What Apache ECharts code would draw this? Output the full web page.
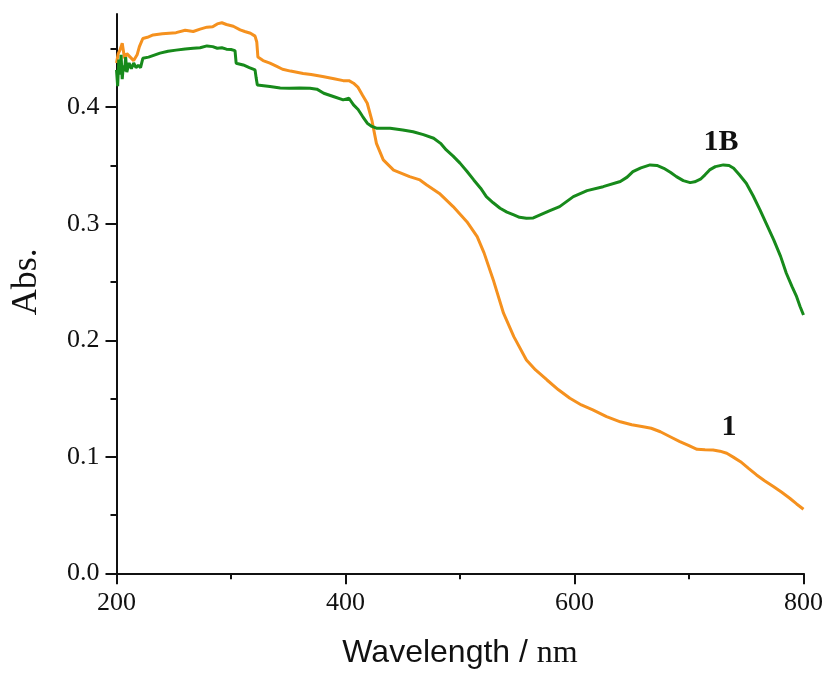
<!DOCTYPE html>
<html>
<head>
<meta charset="utf-8">
<script src="https://cdn.jsdelivr.net/npm/echarts@6/dist/echarts.min.js"></script>
<style>html,body{margin:0;padding:0;background:#fff}#c{width:827px;height:677px}</style>
</head>
<body>
<div id="c"></div>
<script>
// Series "1" (orange)
var wl1 = [200, 201.5, 203, 205, 207, 209, 212, 215, 218, 220, 223, 227, 232, 240, 252, 260, 267, 273, 279, 284, 288, 292, 296, 302, 308, 312, 317, 321, 322.5, 323.5,
  328, 334, 340, 345, 352, 363, 370, 380, 390, 398, 403, 407, 411, 415, 419, 423, 427, 433, 442, 456, 465, 471, 482, 494, 506, 515, 521, 529, 538, 547, 558, 566, 576, 586, 596, 606, 616, 628, 640, 650, 660, 667, 675, 684, 692, 700, 707, 714, 721, 727, 733, 739, 745, 752, 759, 766, 774, 781, 788, 794, 800];
var abs1 = [0.438, 0.446, 0.449, 0.455, 0.442, 0.446, 0.443, 0.440, 0.445, 0.452, 0.459, 0.460, 0.462, 0.463, 0.464, 0.466, 0.465, 0.467, 0.4687, 0.469, 0.4715, 0.4725, 0.471, 0.4695, 0.4664, 0.465, 0.4635, 0.461, 0.456, 0.443,
  0.440, 0.4378, 0.435, 0.4326, 0.431, 0.429, 0.428, 0.4263, 0.4245, 0.4228, 0.4228, 0.4206, 0.417, 0.410, 0.4034, 0.389, 0.369, 0.3548, 0.346, 0.3404, 0.3376, 0.3333, 0.326, 0.3147, 0.3018, 0.289, 0.2750, 0.252, 0.2232, 0.2031, 0.1831, 0.1745, 0.1659, 0.1575, 0.1502, 0.1445, 0.1402, 0.1345, 0.1300, 0.1275, 0.1258, 0.1245, 0.1215, 0.117, 0.113, 0.1095, 0.1064, 0.1060, 0.1058, 0.1048, 0.103, 0.0995, 0.0958, 0.090, 0.0844, 0.0795, 0.0743, 0.0695, 0.0644, 0.0595, 0.055];

// Series "1B" (green)
var wl1B = [200, 201, 202, 203, 204, 205, 206, 207, 208, 209, 211, 213, 215, 217, 219, 221, 223, 228, 238, 245, 252, 260, 267, 273, 279, 284, 288, 292, 296, 300, 303.5, 304.5, 310.7, 316, 321, 322, 323,
  334, 343, 351, 360, 369, 375, 381, 390, 398, 403, 407, 411, 415, 419, 423, 427, 433, 439, 450, 459, 468, 477, 483, 488, 494, 500, 506, 512, 518, 523, 529, 535, 541, 547, 552, 558, 564, 570, 578, 587, 599, 611, 625, 640, 646, 651, 658, 666, 672, 678, 684, 689, 695, 701, 705, 710, 714, 718, 723, 730, 735, 739, 744, 750, 756, 762, 768, 774, 780, 785, 790, 794, 797, 800];
var abs1B = [0.432, 0.418, 0.441, 0.428, 0.445, 0.424, 0.436, 0.431, 0.443, 0.430, 0.438, 0.433, 0.438, 0.434, 0.436, 0.434, 0.442, 0.443, 0.4464, 0.448, 0.449, 0.450, 0.4506, 0.451, 0.4526, 0.452, 0.4506, 0.451, 0.4498, 0.4495, 0.4486, 0.4378, 0.4363, 0.434, 0.432, 0.425, 0.419,
  0.4177, 0.4165, 0.4163, 0.4165, 0.4163, 0.4155, 0.412, 0.409, 0.4063, 0.4077, 0.402, 0.398, 0.392, 0.3863, 0.3835, 0.382, 0.382, 0.382, 0.3805, 0.379, 0.3765, 0.3734, 0.369, 0.3633, 0.358, 0.352, 0.345, 0.3376, 0.3305, 0.3233, 0.318, 0.3133, 0.310, 0.3076, 0.3055, 0.3047, 0.305, 0.3076, 0.311, 0.3147, 0.3233, 0.3284, 0.3318, 0.3362, 0.340, 0.3447, 0.348, 0.3505, 0.350, 0.3476, 0.344, 0.3404, 0.337, 0.3353, 0.336, 0.3382, 0.342, 0.3462, 0.349, 0.3505, 0.350, 0.3476, 0.342, 0.3348, 0.324, 0.3119, 0.299, 0.2861, 0.272, 0.2575, 0.246, 0.2374, 0.229, 0.2217];

var xTicks = [200, 400, 600, 800];
var yTicks = [0.0, 0.1, 0.2, 0.3, 0.4];

function pairs(xs, ys) { return xs.map(function (x, i) { return [x, ys[i]]; }); }

var chart = echarts.init(document.getElementById('c'), null, { renderer: 'canvas' });
var serif = 'Liberation Serif, Times New Roman, serif';
chart.setOption({
  animation: false,
  backgroundColor: '#ffffff',
  grid: { left: 116.5, right: 23.5, top: 14, bottom: 103.7, containLabel: false },
  xAxis: {
    type: 'value', min: 200, max: 800, interval: 200,
    axisLine: { show: true, onZero: false, lineStyle: { color: '#111', width: 2 } },
    axisTick: { show: true, inside: false, length: 11, lineStyle: { color: '#111', width: 2 } },
    minorTick: { show: true, splitNumber: 2, length: 6, lineStyle: { color: '#111', width: 2 } },
    splitLine: { show: false },
    axisLabel: { fontFamily: serif, fontSize: 26, color: '#111', margin: 17,
      formatter: function (v) { return xTicks.indexOf(v) >= 0 ? String(v) : ''; } },
    name: '{a|Wavelength / }{b|nm}', nameLocation: 'middle', nameGap: 64,
    nameTextStyle: { rich: {
      a: { fontFamily: 'Liberation Sans, Arial, sans-serif', fontSize: 32, color: '#111' },
      b: { fontFamily: serif, fontSize: 32, color: '#111' } } }
  },
  yAxis: {
    type: 'value', min: 0, max: 0.48, interval: 0.1,
    axisLine: { show: true, onZero: false, lineStyle: { color: '#111', width: 2 } },
    axisTick: { show: true, inside: false, length: 11, customValues: yTicks, lineStyle: { color: '#111', width: 2 } },
    minorTick: { show: true, splitNumber: 2, length: 6, lineStyle: { color: '#111', width: 2 } },
    splitLine: { show: false },
    axisLabel: { fontFamily: serif, fontSize: 26, color: '#111', margin: 17, customValues: yTicks,
      formatter: function (v) { return (Math.round(v * 10) / 10).toFixed(1); } },
    name: 'Abs.', nameLocation: 'middle', nameGap: 72, nameRotate: 90,
    nameTextStyle: { fontFamily: serif, fontSize: 36, color: '#111', padding: [0, 0, 0, 24] }
  },
  series: [
    {
      name: '1', type: 'line', data: pairs(wl1, abs1), showSymbol: false, smooth: false,
      lineStyle: { color: '#F5911E', width: 3 }, itemStyle: { color: '#F5911E' }, z: 2,
      markPoint: { symbol: 'circle', symbolSize: 0, silent: true,
        label: { show: true, position: 'inside', formatter: '1', fontFamily: serif, fontWeight: 'bold', fontSize: 30, color: '#111' },
        data: [{ coord: [735, 0.1256] }] }
    },
    {
      name: '1B', type: 'line', data: pairs(wl1B, abs1B), showSymbol: false, smooth: false,
      lineStyle: { color: '#178A1B', width: 3 }, itemStyle: { color: '#178A1B' }, z: 3,
      markPoint: { symbol: 'circle', symbolSize: 0, silent: true,
        label: { show: true, position: 'inside', formatter: '1B', fontFamily: serif, fontWeight: 'bold', fontSize: 30, color: '#111' },
        data: [{ coord: [728, 0.370] }] }
    }
  ]
});
</script>
</body>
</html>
